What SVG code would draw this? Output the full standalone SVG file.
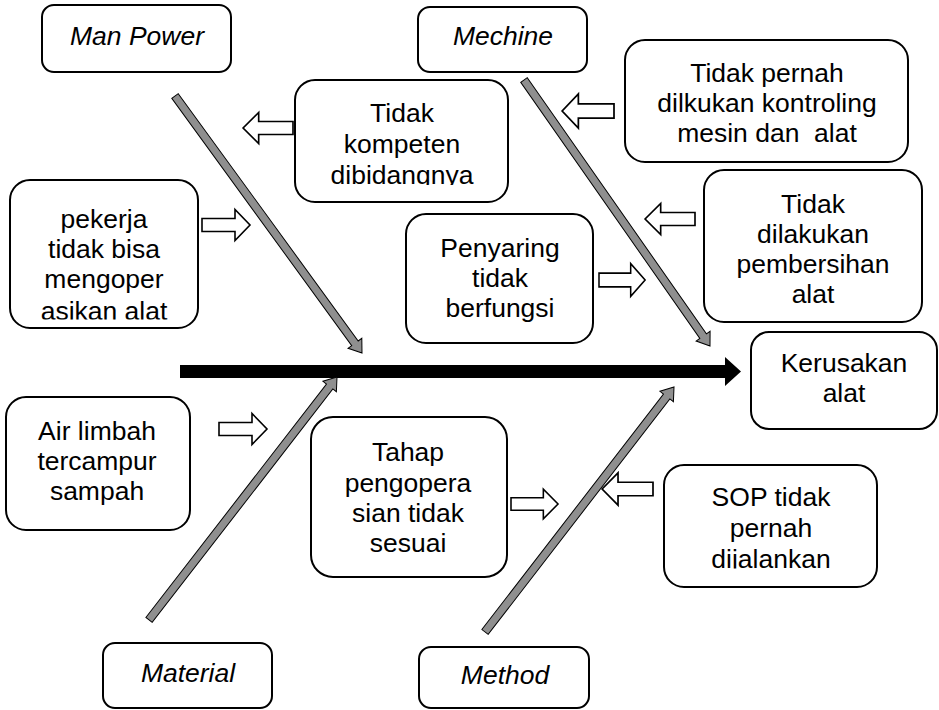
<svg xmlns="http://www.w3.org/2000/svg" width="939" height="710" viewBox="0 0 939 710">
  <style>
    .box { fill: #ffffff; stroke: #000000; stroke-width: 2; }
    .txt { font-family: "Liberation Sans", Arial, sans-serif; font-size: 25px; fill: #000000; text-anchor: middle; white-space: pre; }
    .it { font-style: italic; }
    .bone { fill: #8f8f8f; stroke: #000000; stroke-width: 1; stroke-linejoin: miter; }
    .cue { fill: #ffffff; stroke: #000000; stroke-width: 1.6; stroke-linejoin: miter; }
  </style>
  <defs>
    <!-- hollow block arrow pointing right, origin at its tail centre -->
    <path id="cueRight" d="M0,-6.5 H33 V-15.5 L48,0 L33,15.5 V6.5 H0 Z"/>
    <clipPath id="clipTk"><rect x="295" y="80" width="213" height="105"/></clipPath>
    <clipPath id="clipPk"><rect x="10" y="180" width="188" height="139.5"/></clipPath>
    <clipPath id="clipSop"><rect x="664" y="465" width="213" height="103.5"/></clipPath>
  </defs>

  <rect x="0" y="0" width="939" height="710" fill="#ffffff"/>

  <!-- spine and bones -->
  <g id="connectors">
    <path d="M180,365 H725 V357 L741,371.5 L725,386 V378 H180 Z" fill="#000000"/>
    <path class="bone" transform="translate(362,353) rotate(53.96)" d="M-317.8,-4 H-12 V-8.5 L0,0 L-12,8.5 V4 H-317.8 Z"/>
    <path class="bone" transform="translate(710,346) rotate(55.04)" d="M-324.6,-4 H-12 V-8.5 L0,0 L-12,8.5 V4 H-324.6 Z"/>
    <path class="bone" transform="translate(337,377) rotate(-52.27)" d="M-307.2,-4 H-12 V-8.5 L0,0 L-12,8.5 V4 H-307.2 Z"/>
    <path class="bone" transform="translate(674,387) rotate(-52.35)" d="M-309.4,-4 H-12 V-8.5 L0,0 L-12,8.5 V4 H-309.4 Z"/>

    <!-- cause arrows -->
    <use href="#cueRight" class="cue" transform="translate(293,128) scale(-1.04,1)"/>
    <use href="#cueRight" class="cue" transform="translate(202,225)"/>
    <use href="#cueRight" class="cue" transform="translate(614,111) scale(-1.08,1.1)"/>
    <use href="#cueRight" class="cue" transform="translate(695,219) scale(-1.04,1)"/>
    <use href="#cueRight" class="cue" transform="translate(599,280) scale(0.96,1.06)"/>
    <use href="#cueRight" class="cue" transform="translate(219,429)"/>
    <use href="#cueRight" class="cue" transform="translate(511,504) scale(0.98,0.96)"/>
    <use href="#cueRight" class="cue" transform="translate(653,489) scale(-1.06,1.04)"/>
  </g>

  <!-- category labels -->
  <g id="man-power">
    <rect class="box" x="42" y="5" width="189" height="67" rx="12"/>
    <g transform="translate(137,0) scale(1.06,1)"><text class="txt it" x="0" y="45">Man Power</text></g>
  </g>
  <g id="mechine">
    <rect class="box" x="418" y="7" width="169" height="65" rx="12"/>
    <g transform="translate(503,0) scale(1.06,1)"><text class="txt it" x="0" y="45">Mechine</text></g>
  </g>
  <g id="material">
    <rect class="box" x="103" y="643" width="169" height="65" rx="12"/>
    <g transform="translate(188,0) scale(1.06,1)"><text class="txt it" x="0" y="682">Material</text></g>
  </g>
  <g id="method">
    <rect class="box" x="419" y="647" width="170" height="61" rx="12"/>
    <g transform="translate(505,0) scale(1.06,1)"><text class="txt it" x="0" y="684">Method</text></g>
  </g>

  <!-- causes -->
  <g id="tidak-kompeten">
    <rect class="box" x="295" y="80" width="213" height="122" rx="20"/>
    <g clip-path="url(#clipTk)">
      <g transform="translate(402,0) scale(1.06,1)">
        <text class="txt" x="0" y="122">Tidak</text>
        <text class="txt" x="0" y="153">kompeten</text>
        <text class="txt" x="0" y="184.5">dibidangnya</text>
      </g>
    </g>
  </g>
  <g id="pekerja">
    <rect class="box" x="10" y="180" width="188" height="148" rx="20"/>
    <g clip-path="url(#clipPk)">
      <g transform="translate(104,0) scale(1.06,1)">
        <text class="txt" x="0" y="228">pekerja</text>
        <text class="txt" x="0" y="258">tidak bisa</text>
        <text class="txt" x="0" y="288">mengoper</text>
        <text class="txt" x="0" y="320">asikan alat</text>
      </g>
    </g>
  </g>
  <g id="kontroling">
    <rect class="box" x="625" y="40" width="283" height="122" rx="20"/>
    <g transform="translate(767,0) scale(1.06,1)">
      <text class="txt" x="0" y="82">Tidak pernah</text>
      <text class="txt" x="0" y="112">dilkukan kontroling</text>
      <text class="txt" x="0" y="142">mesin dan  alat</text>
    </g>
  </g>
  <g id="pembersihan">
    <rect class="box" x="704" y="170" width="218" height="152" rx="20"/>
    <g transform="translate(813,0) scale(1.06,1)">
      <text class="txt" x="0" y="213">Tidak</text>
      <text class="txt" x="0" y="243">dilakukan</text>
      <text class="txt" x="0" y="273">pembersihan</text>
      <text class="txt" x="0" y="303">alat</text>
    </g>
  </g>
  <g id="penyaring">
    <rect class="box" x="406" y="214" width="187" height="129" rx="20"/>
    <g transform="translate(500,0) scale(1.06,1)">
      <text class="txt" x="0" y="257">Penyaring</text>
      <text class="txt" x="0" y="287">tidak</text>
      <text class="txt" x="0" y="317">berfungsi</text>
    </g>
  </g>
  <g id="air-limbah">
    <rect class="box" x="6" y="397" width="184" height="133" rx="20"/>
    <g transform="translate(97,0) scale(1.06,1)">
      <text class="txt" x="0" y="440">Air limbah</text>
      <text class="txt" x="0" y="470">tercampur</text>
      <text class="txt" x="0" y="500">sampah</text>
    </g>
  </g>
  <g id="tahap">
    <rect class="box" x="311" y="417" width="196" height="160" rx="22"/>
    <g transform="translate(408,0) scale(1.06,1)">
      <text class="txt" x="0" y="461">Tahap</text>
      <text class="txt" x="0" y="492">pengopera</text>
      <text class="txt" x="0" y="522">sian tidak</text>
      <text class="txt" x="0" y="552">sesuai</text>
    </g>
  </g>
  <g id="sop">
    <rect class="box" x="664" y="465" width="213" height="122" rx="20"/>
    <g clip-path="url(#clipSop)">
      <g transform="translate(771,0) scale(1.06,1)">
        <text class="txt" x="0" y="506">SOP tidak</text>
        <text class="txt" x="0" y="537">pernah</text>
        <text class="txt" x="0" y="568">dijalankan</text>
      </g>
    </g>
  </g>

  <!-- effect -->
  <g id="kerusakan">
    <rect class="box" x="751" y="332" width="186" height="97" rx="18"/>
    <g transform="translate(844,0) scale(1.06,1)">
      <text class="txt" x="0" y="372">Kerusakan</text>
      <text class="txt" x="0" y="402">alat</text>
    </g>
  </g>
</svg>
